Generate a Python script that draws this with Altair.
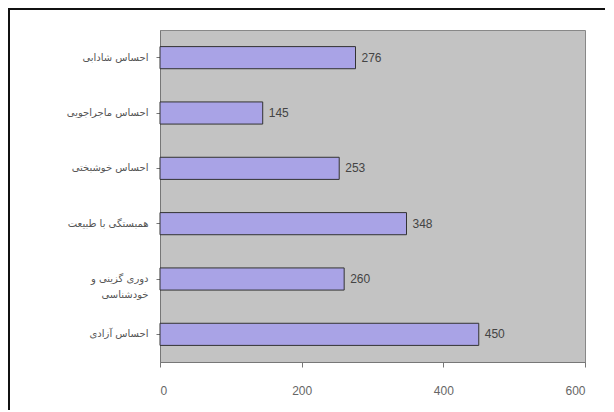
import altair as alt
import pandas as pd

categories = ["احساس شادابی", "احساس ماجراجویی", "احساس خوشبختی", "همبستگی با طبیعت", "دوری گزینی و خودشناسی", "احساس آزادی"]
values = [276, 145, 253, 348, 260, 450]
x_ticks = [0, 200, 400, 600]

df = pd.DataFrame({"cat": categories, "value": values})

label_expr = "datum.value == 'دوری گزینی و خودشناسی' ? ['دوری گزینی و', 'خودشناسی'] : datum.value"

y = alt.Y("cat:N", sort=categories, title=None,
          scale=alt.Scale(paddingInner=0.6, paddingOuter=0.3),
          axis=alt.Axis(labelExpr=label_expr, labelFont="DejaVu Sans", labelFontSize=10,
                        labelColor="#555555", labelPadding=8, tickSize=4, tickColor="#777777",
                        domainColor="#777777", labelLineHeight=16))
x = alt.X("value:Q", title=None,
          scale=alt.Scale(domain=[0, 600], nice=False),
          axis=alt.Axis(values=x_ticks, grid=False, labelFont="Liberation Sans", labelFontSize=12,
                        labelColor="#666666", tickSize=5, tickColor="#777777",
                        domainColor="#777777", labelPadding=18))

bars = alt.Chart(df).mark_bar(color="#a9a3e6", stroke="#333333", strokeWidth=1).encode(x=x, y=y)
text = alt.Chart(df).mark_text(align="left", dx=6, font="Liberation Sans", fontSize=12,
                                color="#444444").encode(x="value:Q", y=alt.Y("cat:N", sort=categories), text="value:Q")

frame = alt.Chart(pd.DataFrame({"a": [0]})).mark_rect(fill=None, stroke="#111111", strokeWidth=2).encode(
    x=alt.value(-151), x2=alt.value(455), y=alt.value(-21), y2=alt.value(410))

chart = alt.layer(frame, bars, text).properties(
    width=425, height=332,
    autosize=alt.AutoSizeParams(type="none"),
    padding={"left": 152, "top": 22, "right": 20, "bottom": 48},
    background="white",
).configure_view(fill="#c3c3c3", stroke="#888888", strokeWidth=1)

chart.save("out.html", embed_options={"renderer": "svg", "actions": False})
